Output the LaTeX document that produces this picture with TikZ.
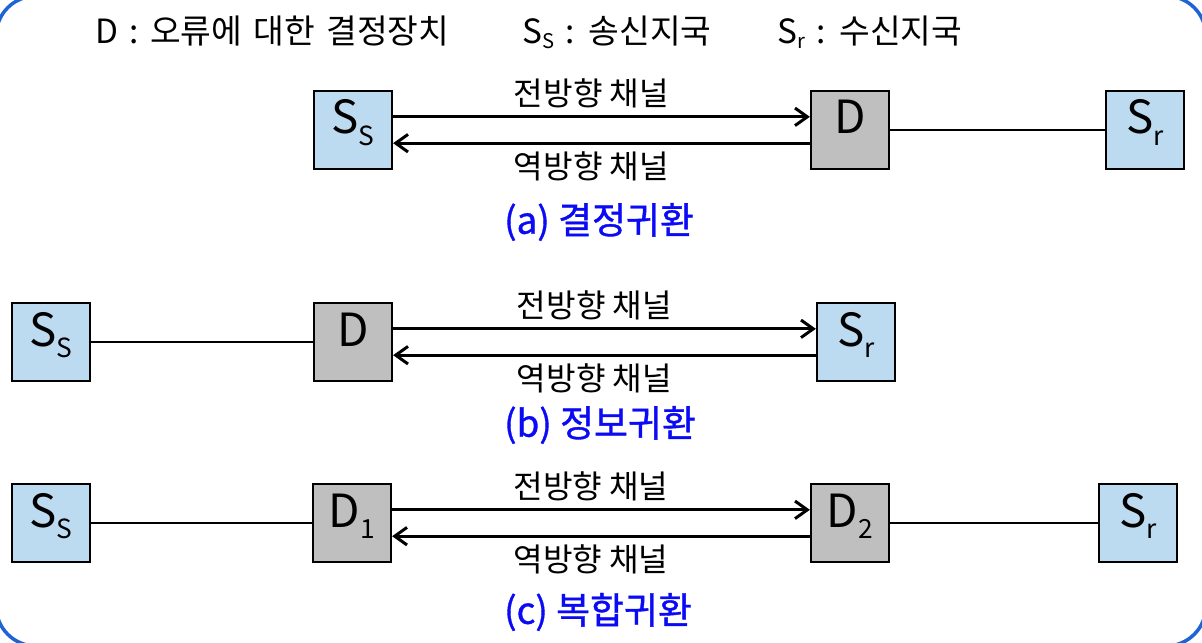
\documentclass[tikz,border=0pt]{standalone}
\usepackage{fontspec}
\setmainfont{Noto Sans CJK KR}
\newfontfamily\capfont[FakeBold=1]{Noto Sans CJK KR}
\usetikzlibrary{arrows.meta}

\definecolor{stablue}{RGB}{189,219,240}
\definecolor{decgray}{RGB}{191,191,191}
\definecolor{rimblue}{RGB}{30,100,215}
\definecolor{capblue}{RGB}{10,10,245}

\newcommand{\boxname}[2]{#1\raisebox{-6.5pt}{\fontsize{15}{15}\selectfont #2}}
\newcommand{\keyname}[2]{#1\raisebox{-2.5pt}{\fontsize{11.5}{11.5}\selectfont #2}}
\newcommand{\keyfont}{\fontsize{19}{19}\selectfont\spaceskip=0.34em\relax}

\tikzset{
  stabox/.style={draw, line width=1.3pt, fill=stablue, minimum size=1.56cm, inner sep=0pt,
    text height=0.5cm, text depth=0.34cm, font=\fontsize{26}{26}\selectfont},
  decbox/.style={stabox, fill=decgray},
  chan/.style={line width=1.7pt, -{Straight Barb[length=7pt, width=10pt]}},
  link/.style={line width=1.1pt},
  lbl/.style={font=\fontsize{18.3}{18.3}\selectfont, inner sep=4pt, xshift=-0.2cm},
  capt/.style={text=capblue, font=\capfont\fontsize{21}{21}\selectfont},
  legend/.style={font=\keyfont, inner sep=0pt}
}

\begin{document}
\begin{tikzpicture}[x=0.02cm, y=-0.02cm]
  \useasboundingbox (0,0) rectangle (1202,642);
  \draw[rimblue, line width=2pt, rounded corners=0.8cm] (-4,-4) rectangle (1206,646);

  % legend
  \node[legend, anchor=base west] (keyd) at (95,44) {D : 오류에 대한 결정장치};
  \node[legend, anchor=base west] (keyss) at (522,44) {\keyname{S}{S} : 송신지국};
  \node[legend, anchor=base west] (keysr) at (777,44) {\keyname{S}{r} : 수신지국};

  % (a)
  \node[stabox] (ssa) at (353,130) {\boxname{S}{S}};
  \node[decbox] (da) at (850,130) {D};
  \node[stabox] (sra) at (1145,130) {\boxname{S}{r}};
  \draw[chan] ([yshift=7.5pt]ssa.east) -- node[lbl, above] (fwa) {전방향 채널} ([yshift=7.5pt]da.west);
  \draw[chan] ([yshift=-7.5pt]da.west) -- node[lbl, below] (bwa) {역방향 채널} ([yshift=-7.5pt]ssa.east);
  \draw[link] (da) -- (sra);
  \node[capt] (capa) at (599,222) {(a) 결정귀환};

  % (b)
  \node[stabox] (ssb) at (51,342) {\boxname{S}{S}};
  \node[decbox] (db) at (353,342) {D};
  \node[stabox] (srb) at (856,342) {\boxname{S}{r}};
  \draw[link] (ssb) -- (db);
  \draw[chan] ([yshift=7.5pt]db.east) -- node[lbl, above] (fwb) {전방향 채널} ([yshift=7.5pt]srb.west);
  \draw[chan] ([yshift=-7.5pt]srb.west) -- node[lbl, below] (bwb) {역방향 채널} ([yshift=-7.5pt]db.east);
  \node[capt] (capb) at (600,425) {(b) 정보귀환};

  % (c)
  \node[stabox] (ssc) at (51,523) {\boxname{S}{S}};
  \node[decbox] (dc1) at (352,523) {\boxname{D}{1}};
  \node[decbox] (dc2) at (850,523) {\boxname{D}{2}};
  \node[stabox] (src) at (1138,523) {\boxname{S}{r}};
  \draw[link] (ssc) -- (dc1);
  \draw[chan] ([yshift=7.5pt]dc1.east) -- node[lbl, above] (fwc) {전방향 채널} ([yshift=7.5pt]dc2.west);
  \draw[chan] ([yshift=-7.5pt]dc2.west) -- node[lbl, below] (bwc) {역방향 채널} ([yshift=-7.5pt]dc1.east);
  \draw[link] (dc2) -- (src);
  \node[capt] (capc) at (598,612) {(c) 복합귀환};
\end{tikzpicture}
\end{document}
